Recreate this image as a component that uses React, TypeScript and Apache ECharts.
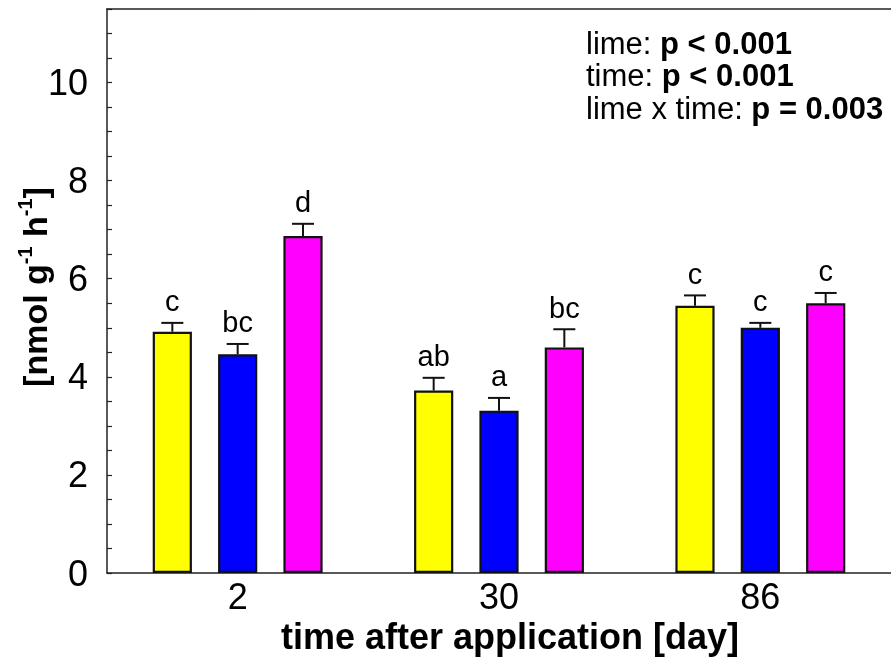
import React, { useEffect, useRef } from "react";
import * as echarts from "echarts";

const categories = ["2", "30", "86"];
const yTickMin = 0;
const yTickMax = 11.5;
const yTickStep = 0.5;
const yLabelStep = 2;

const seriesNames = ["treatment 1", "treatment 2", "treatment 3"];
const seriesColors = ["#FFFF00", "#0000FF", "#FF00FF"];

const yellowMean = [4.92, 3.72, 5.45];
const yellowErr = [0.18, 0.26, 0.21];
const yellowLetters = ["c", "ab", "c"];

const blueMean = [4.46, 3.31, 5.0];
const blueErr = [0.21, 0.26, 0.1];
const blueLetters = ["bc", "a", "c"];

const magentaMean = [6.87, 4.6, 5.5];
const magentaErr = [0.25, 0.37, 0.21];
const magentaLetters = ["d", "bc", "c"];

const yAxisTitle = "[nmol g{sup|-1} h{sup|-1}]";

const statLines = [
  ["lime: ", "p < 0.001"],
  ["time: ", "p < 0.001"],
  ["lime x time: ", "p = 0.003"],
];

const FONT = "'Liberation Sans', Arial, Helvetica, sans-serif";

export default function App() {
  const ref = useRef<HTMLDivElement>(null);

  useEffect(() => {
    if (!ref.current) return;
    document.body.style.margin = "0";
    const chart = echarts.init(ref.current, null, { renderer: "svg" });

    const means = [yellowMean, blueMean, magentaMean];
    const errs = [yellowErr, blueErr, magentaErr];
    const letters = [yellowLetters, blueLetters, magentaLetters];

    const barSeries = means.map((m, k) => ({
      name: seriesNames[k],
      type: "bar",
      xAxisIndex: 0,
      yAxisIndex: 0,
      data: m,
      barWidth: "15%",
      barGap: "66.7%",
      itemStyle: {
        color: seriesColors[k],
        borderColor: "#111",
        borderWidth: 2.2,
      },
      z: 2,
    }));

    const errSeries = means.map((m, k) => ({
      name: seriesNames[k] + " error",
      type: "custom",
      xAxisIndex: 0,
      yAxisIndex: 0,
      clip: false,
      z: 3,
      data: m.map((v, i) => [i, v, errs[k][i]]),
      renderItem: (params: any, api: any) => {
        const cat = api.value(0);
        const mean = api.value(1);
        const err = api.value(2);
        const band = api.size([1, 0])[0];
        const off = band * 0.25 * (k - 1);
        const base = api.coord([cat, mean]);
        const top = api.coord([cat, mean + err]);
        const x = base[0] + off;
        return {
          type: "group",
          children: [
            {
              type: "line",
              shape: { x1: x, y1: base[1], x2: x, y2: top[1] },
              style: { stroke: "#111", lineWidth: 2 },
            },
            {
              type: "line",
              shape: { x1: x - 11, y1: top[1], x2: x + 11, y2: top[1] },
              style: { stroke: "#111", lineWidth: 2 },
            },
            {
              type: "text",
              x: x,
              y: top[1] - 7,
              style: {
                text: letters[k][params.dataIndex],
                fontFamily: FONT,
                fontSize: 29,
                fill: "#000",
                align: "center",
                verticalAlign: "bottom",
              },
            },
          ],
        };
      },
    }));

    const statText = statLines
      .map(([a, b]) => `${a}{b|${b}}`)
      .join("\n");

    chart.setOption({
      animation: false,
      grid: {
        left: 107,
        right: 0,
        top: 9,
        bottom: 84,
        containLabel: false,
        outerBoundsMode: "none",
      },
      xAxis: [
        {
          type: "category",
          data: categories,
          position: "bottom",
          axisLine: { show: true, lineStyle: { color: "#222", width: 1.5 } },
          axisTick: { show: false },
          axisLabel: {
            fontFamily: FONT,
            fontSize: 36,
            color: "#000",
            margin: 5,
          },
          name: "time after application [day]",
          nameLocation: "middle",
          nameGap: 37,
          nameTextStyle: {
            fontFamily: FONT,
            fontSize: 36,
            fontWeight: "bold",
            color: "#000",
            padding: [0, 0, 0, 22],
          },
        },
        {
          type: "category",
          data: categories,
          position: "top",
          axisLine: { show: true, lineStyle: { color: "#222", width: 1.5 } },
          axisTick: { show: false },
          axisLabel: { show: false },
        },
      ],
      yAxis: {
        type: "value",
        min: yTickMin,
        max: yTickMax,
        interval: yTickStep,
        axisLine: { show: true, lineStyle: { color: "#222", width: 1.5 } },
        axisTick: { show: true, inside: true, length: 5, lineStyle: { color: "#222", width: 1.2 } },
        splitLine: { show: false },
        axisLabel: {
          fontFamily: FONT,
          fontSize: 36,
          color: "#000",
          margin: 19,
          formatter: (v: number) =>
            Math.abs(v / yLabelStep - Math.round(v / yLabelStep)) < 1e-9 ? String(v) : "",
        },
      },
      graphic: [
        {
          type: "text",
          x: 35,
          y: 287,
          rotation: Math.PI / 2,
          style: {
            text: yAxisTitle,
            fontFamily: FONT,
            fontSize: 34,
            fontWeight: "bold",
            fill: "#000",
            align: "center",
            verticalAlign: "middle",
            lineHeight: 40,
            rich: {
              sup: {
                fontFamily: FONT,
                fontSize: 20,
                fontWeight: "bold",
                fill: "#000",
                verticalAlign: "top",
                lineHeight: 20,
              },
            },
          },
        },
        {
          type: "text",
          left: 586,
          top: 27,
          style: {
            text: statText,
            fontFamily: FONT,
            fontSize: 31,
            lineHeight: 32.5,
            fill: "#000",
            rich: {
              b: {
                fontFamily: FONT,
                fontSize: 31,
                fontWeight: "bold",
                lineHeight: 32.5,
                fill: "#000",
              },
            },
          },
        },
      ],
      series: [...barSeries, ...errSeries],
    });

    return () => chart.dispose();
  }, []);

  return (
    <div
      ref={ref}
      style={{ position: "fixed", left: 0, top: 0, width: 891, height: 657 }}
    />
  );
}
